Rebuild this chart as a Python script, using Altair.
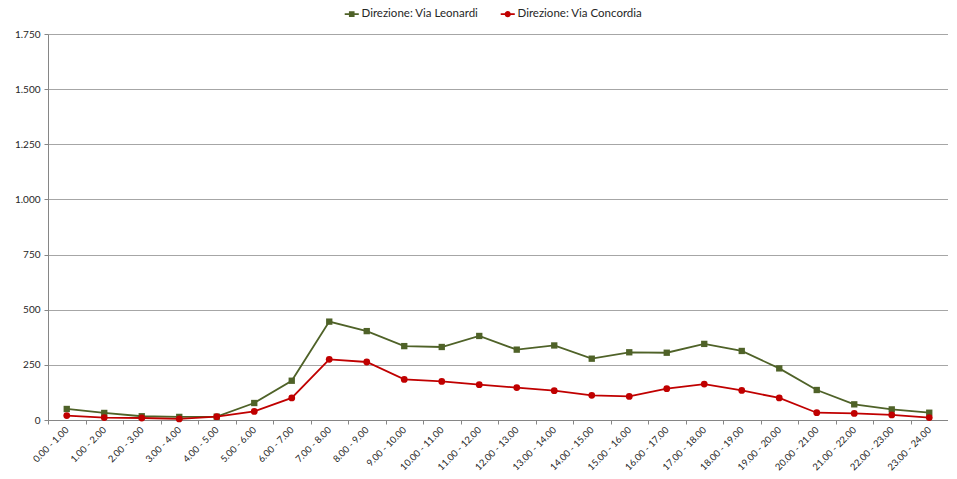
import altair as alt
import pandas as pd

fasce = ["0.00 - 1.00", "1.00 - 2.00", "2.00 - 3.00", "3.00 - 4.00", "4.00 - 5.00",
         "5.00 - 6.00", "6.00 - 7.00", "7.00 - 8.00", "8.00 - 9.00", "9.00 - 10.00",
         "10.00 - 11.00", "11.00 - 12.00", "12.00 - 13.00", "13.00 - 14.00",
         "14.00 - 15.00", "15.00 - 16.00", "16.00 - 17.00", "17.00 - 18.00",
         "18.00 - 19.00", "19.00 - 20.00", "20.00 - 21.00", "21.00 - 22.00",
         "22.00 - 23.00", "23.00 - 24.00"]
leonardi = [50, 32, 17, 14, 15, 77, 178, 446, 403, 335, 331, 381, 319, 338,
            278, 307, 305, 345, 313, 234, 136, 71, 48, 33]
concordia = [20, 11, 9, 5, 15, 39, 100, 275, 263, 184, 175, 160, 147, 133,
             112, 107, 142, 163, 134, 100, 33, 30, 23, 11]
serie = ["Direzione: Via Leonardi", "Direzione: Via Concordia"]
colori = ["#4f6228", "#c00000"]
y_ticks = [0, 250, 500, 750, 1000, 1250, 1500, 1750]

df = pd.DataFrame({
    "fascia": fasce + fasce,
    "serie": [serie[0]] * len(fasce) + [serie[1]] * len(fasce),
    "valore": leonardi + concordia,
})

FONT = "Lato"
GRID = "#a6a6a6"
TXT = "#262626"

x = alt.X("fascia:N", sort=fasce,
          scale=alt.Scale(paddingInner=0, paddingOuter=0),
          axis=alt.Axis(title=None, labelAngle=-45, labelAlign="right",
                        labelBaseline="middle", tickBand="extent", grid=False,
                        labelFont=FONT, labelFontSize=9.5, labelColor=TXT,
                        domainColor="#868686", tickColor="#868686", tickSize=4,
                        labelPadding=4, labelOverlap=False, labelBound=False))
y = alt.Y("valore:Q", scale=alt.Scale(domain=[0, 1750], nice=False),
          axis=alt.Axis(title=None, values=y_ticks, grid=True, gridColor=GRID,
                        labelExpr="replace(format(datum.value, ',d'), ',', '.')",
                        labelFont=FONT, labelFontSize=10, labelColor=TXT,
                        domainColor="#868686", tickColor="#868686", tickSize=4,
                        labelPadding=4))

base = alt.Chart(df)

lines = base.mark_line(strokeWidth=1.8).encode(
    x=x, y=y,
    stroke=alt.value(colori[0]),
).transform_filter(alt.datum.serie == serie[0])

lines2 = base.mark_line(strokeWidth=1.8).encode(
    x=x, y=y,
    stroke=alt.value(colori[1]),
).transform_filter(alt.datum.serie == serie[1])

pts_leo = base.transform_filter(alt.datum.serie == serie[0]).mark_point(
    shape="square", filled=True, size=40, opacity=1, color=colori[0]
).encode(x=x, y=y)

pts_con = base.transform_filter(alt.datum.serie == serie[1]).mark_point(
    shape="circle", filled=True, size=46, opacity=1, color=colori[1]
).encode(x=x, y=y)

path_sq = "M-1.5,-0.17H1.5V0.17H-1.5Z M-0.6,-0.6H0.6V0.6H-0.6Z"
path_ci = "M-1.5,-0.17H1.5V0.17H-1.5Z M-0.65,0A0.65,0.65 0 1,1 0.65,0A0.65,0.65 0 1,1 -0.65,0Z"

leg = alt.Legend(title=None, orient="none", direction="horizontal",
                 legendX=298, legendY=-26, labelFont=FONT,
                 labelFontSize=11.5, labelColor=TXT,
                 symbolSize=88, columnPadding=21, labelOffset=4)

legend_layer = base.mark_point(filled=True, size=0, opacity=1).encode(
    x=x, y=y,
    color=alt.Color("serie:N", scale=alt.Scale(domain=serie, range=colori), legend=leg),
    shape=alt.Shape("serie:N", scale=alt.Scale(domain=serie, range=[path_sq, path_ci]), legend=leg),
)

chart = alt.layer(lines, lines2, pts_leo, pts_con, legend_layer).properties(
    width=900, height=386,
    padding={"left": 40, "top": 26, "right": 0, "bottom": 51},
    autosize=alt.AutoSizeParams(type="none"),
).configure_view(stroke=None).configure(background="white")

chart.save("out.html", embed_options={"renderer": "svg", "actions": False})
